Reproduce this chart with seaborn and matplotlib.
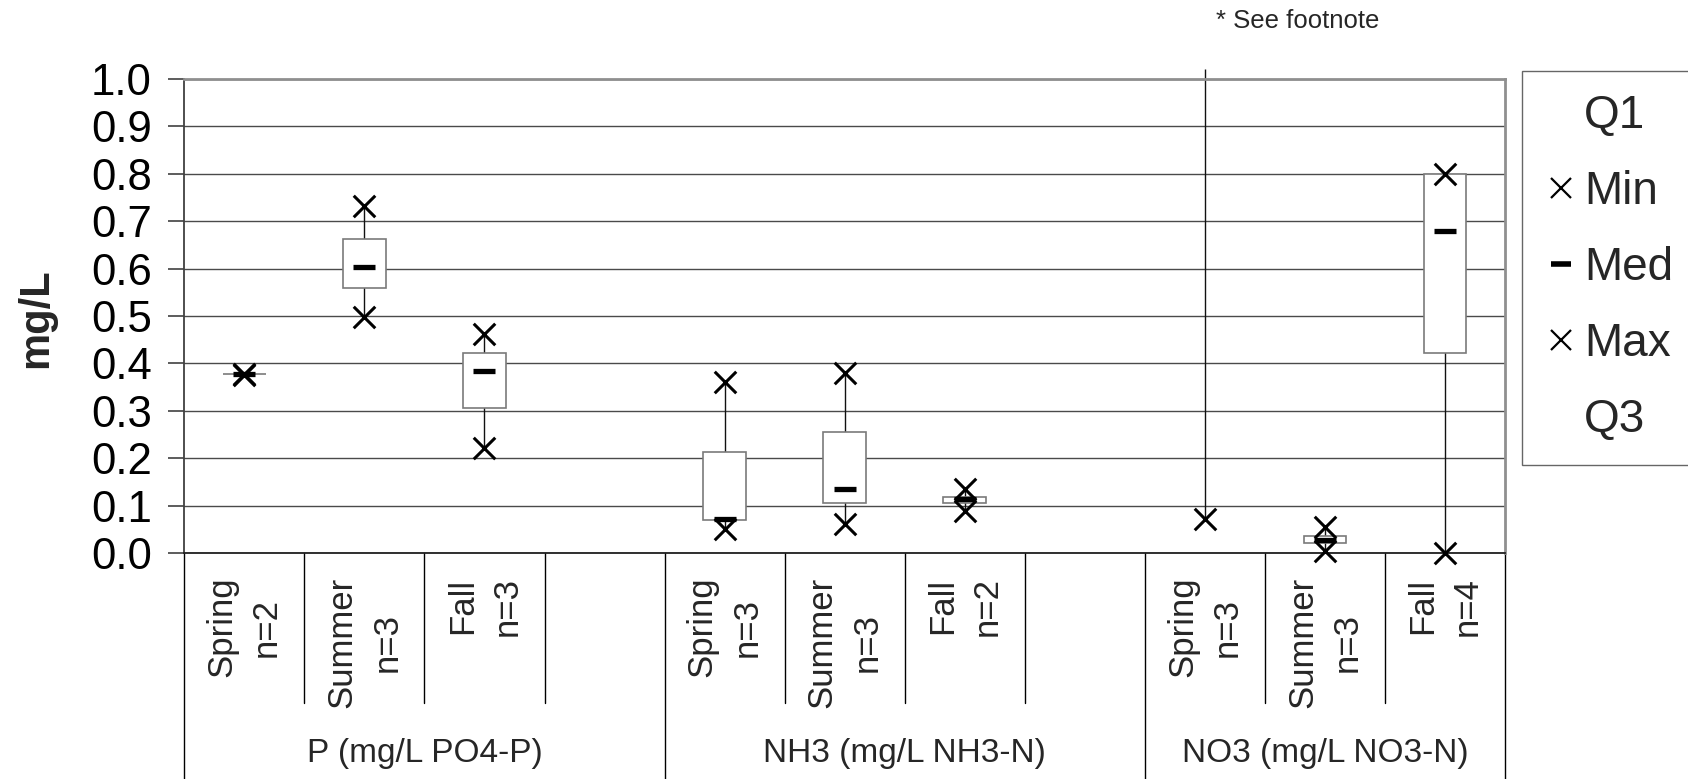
import numpy as np
import pandas as pd
import matplotlib
matplotlib.use("Agg")
import matplotlib.pyplot as plt
import matplotlib.transforms as mtransforms
from matplotlib.lines import Line2D
import seaborn as sns

# ---------------- data ----------------
groups = ["P (mg/L PO4-P)", "NH3 (mg/L NH3-N)", "NO3 (mg/L NO3-N)"]
group_slots = [4, 4, 3]
seasons = ["Spring", "Summer", "Fall", "", "Spring", "Summer", "Fall", "",
           "Spring", "Summer", "Fall"]
n_counts = ["n=2", "n=3", "n=3", "", "n=3", "n=3", "n=2", "",
            "n=3", "n=3", "n=4"]
nan = np.nan
q1_vals = [0.377, 0.560, 0.305, nan, 0.070, 0.105, 0.105, nan, 1.10, 0.021, 0.422]
min_vals = [0.376, 0.498, 0.222, nan, 0.050, 0.062, 0.088, nan, 0.072, 0.005, 0.000]
med_vals = [0.377, 0.604, 0.384, nan, 0.072, 0.135, 0.114, nan, 1.20, 0.027, 0.680]
max_vals = [0.378, 0.732, 0.463, nan, 0.360, 0.380, 0.136, nan, 1.60, 0.055, 0.800]
q3_vals = [0.377, 0.662, 0.421, nan, 0.214, 0.256, 0.118, nan, 1.40, 0.035, 0.800]
y_ticks = [0.0, 0.1, 0.2, 0.3, 0.4, 0.5, 0.6, 0.7, 0.8, 0.9, 1.0]
legend_labels = ["Q1", "Min", "Med", "Max", "Q3"]
footnote = "* See footnote"
y_label = "mg/L"

# ---------------- style ----------------
sns.set_theme(style="white")
plt.rcParams['font.family'] = ['Liberation Sans', 'DejaVu Sans']

fig = plt.figure(figsize=(16.88, 7.79), dpi=100)
ax = fig.add_axes([0.1092, 0.2901, 0.7824, 0.6085])

x = np.arange(len(seasons))
df = pd.DataFrame(dict(x=x, q1=q1_vals, mn=min_vals, med=med_vals,
                       mx=max_vals, q3=q3_vals))

top_lim = 1.0
# high-low lines (min to max)
ax.vlines(df["x"], df["mn"], np.minimum(df["mx"], top_lim + 0.022),
          color="#111111", lw=1.0, zorder=2, clip_on=False)
# boxes Q1..Q3
ax.bar(df["x"], df["q3"] - df["q1"], bottom=df["q1"], width=0.356,
       color="white", edgecolor="#7a7a7a", linewidth=1.2, zorder=3)

# markers (only those inside the value range are visible)
mk_kw = dict(color="black", zorder=5, ax=ax, legend=False, clip_on=False)
sns.scatterplot(data=df[df["mn"] <= top_lim], x="x", y="mn", marker="x",
                s=240, linewidth=2.2, **mk_kw)
sns.scatterplot(data=df[df["mx"] <= top_lim], x="x", y="mx", marker="x",
                s=240, linewidth=2.2, **mk_kw)
sns.scatterplot(data=df[df["med"] <= top_lim], x="x", y="med", marker="_",
                s=250, linewidth=3.8, **mk_kw)

ax.set_xlim(-0.5, len(seasons) - 0.5)
ax.set_ylim(0, top_lim)
ax.set_xlabel("")
ax.set_ylabel("")
ax.set_xticks([])
ax.set_yticks(y_ticks)
ax.set_yticklabels([f"{v:.1f}" for v in y_ticks])
ax.tick_params(axis="y", left=True, direction="out", length=11.5, width=1.1,
               color="#303030", pad=12, labelsize=31.5, labelcolor="black")
ax.yaxis.grid(True, color="#4a4a4a", lw=1.0)
ax.xaxis.grid(False)
ax.set_axisbelow(True)
for s in ["top", "right"]:
    ax.spines[s].set_color("#8f8f8f")
    ax.spines[s].set_linewidth(2.0)
ax.spines["left"].set_color("#404040")
ax.spines["left"].set_linewidth(1.3)
ax.spines["bottom"].set_color("#202020")
ax.spines["bottom"].set_linewidth(1.3)

# ---------------- category axis ----------------
trans = mtransforms.blended_transform_factory(ax.transData, ax.transAxes)
bounds = np.concatenate([[0], np.cumsum(group_slots)]) - 0.5
inner_bottom = -0.316
outer_bottom = -0.477
for b in bounds:
    ax.add_line(Line2D([b, b], [0, outer_bottom], transform=trans,
                       color="black", lw=1.0, clip_on=False))
for i in range(len(seasons) - 1):
    b = i + 0.5
    if not np.any(np.isclose(bounds, b)):
        ax.add_line(Line2D([b, b], [0, inner_bottom], transform=trans,
                           color="black", lw=1.0, clip_on=False))
for i, (s, n) in enumerate(zip(seasons, n_counts)):
    if s:
        ax.text(i, -0.05, f"{s}\n{n}", transform=trans, rotation=90,
                ha="center", va="top", multialignment="center",
                fontsize=25, linespacing=1.45)
for g, lo, hi in zip(groups, bounds[:-1], bounds[1:]):
    ax.text((lo + hi) / 2, -0.422, g, transform=trans, ha="center",
            va="center", fontsize=24)

# ---------------- labels ----------------
fig.text(36 / 1688, 1 - 318 / 779, y_label, rotation=90, fontweight="bold",
         fontsize=30, ha="center", va="center")
fig.text(0.7687, 1 - 21 / 779, footnote, ha="center", va="center",
         fontsize=18.5)

# ---------------- legend ----------------
handles = [
    Line2D([], [], ls="none", marker=""),
    Line2D([], [], ls="none", marker="x", ms=15, mew=1.6, color="black"),
    Line2D([], [], ls="none", marker="_", ms=15, mew=4.0, color="black"),
    Line2D([], [], ls="none", marker="x", ms=15, mew=1.6, color="black"),
    Line2D([], [], ls="none", marker=""),
]
leg = fig.legend(handles, legend_labels, loc="upper left",
                 bbox_to_anchor=(1522 / 1688, 1 - 71 / 779), fontsize=33,
                 frameon=True, fancybox=False, edgecolor="#404040",
                 handlelength=0.7, handletextpad=0.15, labelspacing=0.7,
                 borderpad=0.5, borderaxespad=0)
leg.get_frame().set_linewidth(1.0)

fig.savefig("out.png", dpi=100, facecolor="white")
